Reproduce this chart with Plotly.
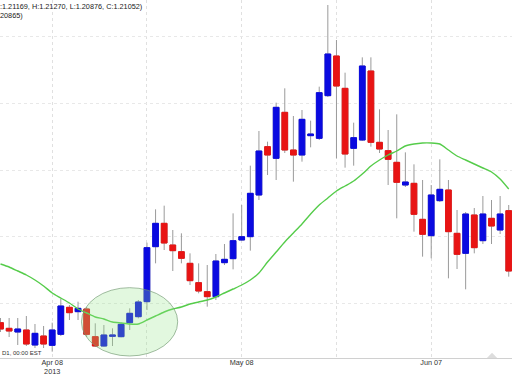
import pandas as pd
import plotly.graph_objects as go

# ---- data ----
dates = pd.bdate_range("2013-03-29", periods=60)

opens = [93.42, 93.25, 93.14, 93.20, 92.75, 93.02, 92.74, 93.07, 93.88, 93.75,
         93.83, 93.00, 92.72, 93.01, 93.00, 93.42, 93.60, 94.05, 95.70, 96.40,
         95.75, 95.55, 95.20, 94.62, 94.35, 94.20, 95.22, 95.34, 95.90, 96.00,
         97.25, 98.70, 98.35, 99.73, 98.60, 98.45, 99.03, 98.95, 100.23, 101.42,
         100.45, 98.65, 98.90, 100.97, 98.83, 98.58, 98.23, 97.55, 97.60, 96.52,
         96.03, 97.08, 97.40, 96.10, 95.50, 96.65, 95.88, 96.55, 96.20, 96.78]
highs = [93.56, 93.56, 93.56, 93.62, 93.38, 93.32, 93.42, 94.15, 93.95, 94.05,
         93.89, 93.40, 93.35, 93.25, 93.42, 93.85, 94.10, 95.82, 96.82, 96.93,
         96.20, 96.10, 95.50, 95.20, 95.15, 95.48, 95.78, 96.70, 96.95, 98.13,
         99.17, 98.85, 100.02, 100.45, 99.62, 99.80, 99.48, 100.50, 102.95, 101.90,
         100.92, 99.42, 101.38, 101.38, 99.82, 99.20, 99.67, 98.53, 98.17, 97.70,
         97.55, 98.32, 97.70, 96.80, 96.74, 96.86, 97.22, 97.10, 97.22, 96.95]
lows = [93.14, 92.99, 92.75, 92.72, 92.66, 92.66, 92.55, 93.02, 93.50, 93.50,
        92.99, 92.70, 92.70, 92.72, 92.98, 93.20, 93.55, 93.80, 95.20, 95.60,
        94.97, 95.20, 94.55, 94.30, 93.90, 94.10, 95.15, 95.02, 95.87, 95.58,
        97.10, 97.85, 97.70, 98.51, 97.65, 98.25, 98.68, 98.90, 100.19, 98.35,
        98.07, 98.13, 98.87, 98.70, 98.51, 97.55, 96.55, 97.49, 96.15, 95.40,
        95.35, 97.04, 94.75, 95.03, 94.42, 95.50, 95.78, 95.78, 96.08, 94.80]
closes = [93.23, 93.17, 93.23, 92.78, 93.10, 92.78, 93.20, 93.92, 93.72, 93.85,
          93.07, 92.72, 93.05, 93.05, 93.37, 93.70, 94.04, 95.67, 96.40, 95.81,
          95.58, 95.35, 94.68, 94.37, 94.20, 95.27, 95.32, 95.88, 96.00, 97.30,
          98.57, 98.45, 99.88, 98.60, 98.45, 99.52, 99.08, 100.32, 101.48, 100.52,
          98.48, 98.97, 101.12, 98.83, 98.63, 98.32, 97.63, 97.64, 96.67, 96.07,
          97.25, 97.42, 96.15, 95.47, 96.68, 95.67, 96.68, 96.32, 96.68, 94.97]
moving_avg = [95.18, 95.09, 94.97, 94.85, 94.70, 94.52, 94.31, 94.16, 94.01, 93.83,
              93.71, 93.59, 93.53, 93.44, 93.41, 93.38, 93.38, 93.50, 93.62, 93.74,
              93.83, 93.89, 93.98, 94.04, 94.10, 94.19, 94.31, 94.43, 94.55, 94.70,
              94.91, 95.24, 95.54, 95.84, 96.11, 96.38, 96.68, 96.95, 97.16, 97.37,
              97.52, 97.67, 97.88, 98.12, 98.30, 98.45, 98.57, 98.72, 98.78, 98.81,
              98.81, 98.78, 98.60, 98.42, 98.30, 98.18, 98.06, 97.94, 97.73, 97.43]

tick_dates = ["2013-04-08", "2013-04-23", "2013-05-08", "2013-05-23", "2013-06-07"]
tick_text = ["Apr 08<br>2013", "", "May 08", "", "Jun 07"]
grid_prices = [94, 96, 98, 100, 102]

info_line1 = ":1.21169, H:1.21270, L:1.20876, C:1.21052)"
info_line2 = "20865)"
period_label = "D1, 00:00 EST"

body_top = [max(o, c) for o, c in zip(opens, closes)]
body_bot = [min(o, c) for o, c in zip(opens, closes)]

BLUE = "#0a0ae0"
RED = "#e81414"
WICK = "#9a9a9a"
FONT = "Liberation Sans, Arial, sans-serif"

fig = go.Figure()
# wicks
fig.add_trace(go.Candlestick(
    x=dates, open=opens, high=highs, low=lows, close=closes,
    increasing=dict(line=dict(color=WICK, width=1), fillcolor=WICK),
    decreasing=dict(line=dict(color=WICK, width=1), fillcolor=WICK),
    whiskerwidth=0, showlegend=False, hoverinfo="skip"))
# bodies
fig.add_trace(go.Candlestick(
    x=dates, open=opens, high=body_top, low=body_bot, close=closes,
    increasing=dict(line=dict(color=BLUE, width=1), fillcolor=BLUE),
    decreasing=dict(line=dict(color=RED, width=1), fillcolor=RED),
    whiskerwidth=0, showlegend=False, hoverinfo="skip"))
# moving average
fig.add_trace(go.Scatter(
    x=dates, y=moving_avg, mode="lines",
    line=dict(color="#55cc4a", width=1.4, shape="spline", smoothing=0.6),
    showlegend=False, hoverinfo="skip"))

# highlight ellipse
fig.add_shape(type="circle", xref="x", yref="y",
              x0="2013-04-11 09:30", x1="2013-04-26 13:40",
              y0=92.42, y1=94.47,
              fillcolor="rgba(150,230,140,0.28)",
              line=dict(color="rgba(110,150,110,0.8)", width=0.8),
              layer="above")
# small marker triangle on the axis
fig.add_shape(type="path", xref="paper", yref="paper",
              path="M 0.951 0 L 0.971 0 L 0.961 0.015 Z",
              fillcolor="#dddddd", line=dict(width=0))

fig.add_annotation(xref="paper", yref="paper", x=-0.004, y=1.0,
                   xanchor="left", yanchor="top", showarrow=False,
                   text=info_line1, font=dict(family=FONT, size=7.3, color="#222"))
fig.add_annotation(xref="paper", yref="paper", x=-0.004, y=0.976,
                   xanchor="left", yanchor="top", showarrow=False,
                   text=info_line2, font=dict(family=FONT, size=7.3, color="#222"))
fig.add_annotation(xref="paper", yref="paper", x=0.0, y=0.0,
                   xanchor="left", yanchor="bottom", showarrow=False,
                   text=period_label, font=dict(family=FONT, size=6, color="#333"))

fig.update_layout(
    width=512, height=376,
    margin=dict(l=0, r=0, t=0, b=18),
    paper_bgcolor="white", plot_bgcolor="white",
    boxgap=0.05, boxgroupgap=0.3,
    font=dict(family=FONT, size=7.3, color="#333"),
    xaxis=dict(
        type="date",
        range=["2013-03-28 22:34", "2013-06-20 09:07"],
        rangebreaks=[dict(bounds=["sat", "mon"])],
        rangeslider=dict(visible=False),
        tickmode="array", tickvals=tick_dates, ticktext=tick_text,
        showgrid=True, gridcolor="#e0e0e0", griddash="dot", gridwidth=1,
        showline=True, linecolor="#d0d0d0", linewidth=1,
        ticks="", zeroline=False, automargin=False,
        ticklabelstandoff=-3,
        tickfont=dict(family=FONT, size=7.3, color="#333"),
    ),
    yaxis=dict(
        range=[92.36, 103.10],
        tickmode="array", tickvals=grid_prices,
        showticklabels=False,
        showgrid=True, gridcolor="#e8e8e8", griddash="dot", gridwidth=1,
        zeroline=False, showline=False, automargin=False,
    ),
    hovermode=False,
)

fig.write_html(
    "out.html",
    config={"displayModeBar": False},
    post_script="document.body.style.margin='0px';document.body.style.overflow='hidden';",
)
